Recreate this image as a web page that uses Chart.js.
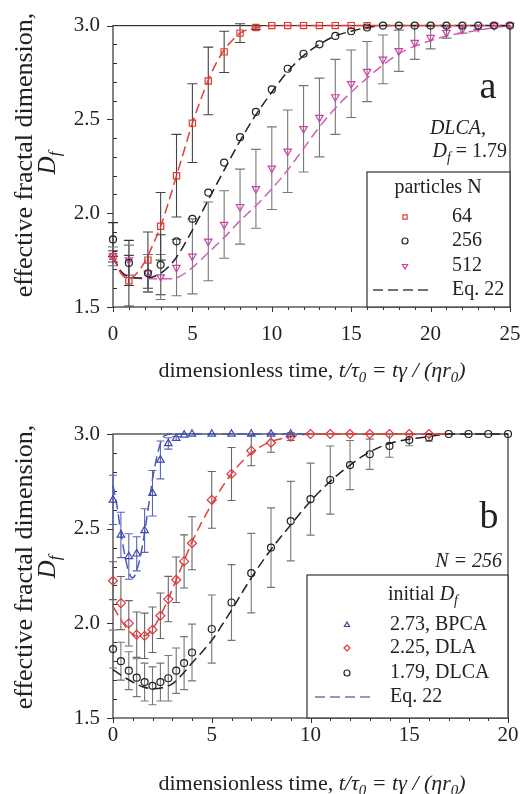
<!DOCTYPE html>
<html>
<head>
<meta charset="utf-8">
<script src="https://cdn.jsdelivr.net/npm/chart.js@4.4.1/dist/chart.umd.min.js"></script>
<style>
body{margin:0;background:#fff;width:520px;height:794px;overflow:hidden;position:relative}
canvas{position:absolute;left:0}
#chartA{top:0}
#chartB{top:400px}
</style>
</head>
<body>
<canvas id="chartA" width="520" height="400"></canvas>
<canvas id="chartB" width="520" height="394"></canvas>
<script>

// panel a : DLCA, Df = 1.79, different particle numbers N
const timeA=[0,1,2.2,3,4,5,6,7,8,9,10,11,12,13,14,15,16,17,18,19,20,21,22,23,24,25]

const df64=[1.77,1.64,1.75,1.93,2.20,2.48,2.705,2.86,2.96,2.99,3.0,3.0,3.0,3.0,3.0,3.0,3.0,null,null,null,null,null,null,null,null,null]
const err64=[0.03,0.135,0.15,0.18,0.22,0.21,0.18,0.11,0.05,0.01,0,0,0,0,0,0,0,0,0,0,0,0,0,0,0,0]

const df256=[1.86,1.735,1.68,1.725,1.85,1.97,2.11,2.27,2.405,2.54,2.66,2.77,2.85,2.90,2.945,2.97,2.99,3.0,3.0,3.0,3.0,3.0,3.0,3.0,3.0,3.0]
const err256=[0.09,0.12,0.1,0.16,0,0,0,0,0,0,0,0,0,0,0,0,0,0,0,0,0,0,0,0,0,0]

const df512=[1.77,1.75,1.68,1.66,1.71,1.77,1.85,1.94,2.035,2.13,2.24,2.33,2.45,2.51,2.62,2.69,2.755,2.82,2.866,2.91,2.936,2.963,2.98,2.99,3.0,3.0]
const err512=[0.05,0.08,0.1,0.12,0.15,0.2,0.21,0.18,0.2,0.21,0.22,0.22,0.23,0.21,0.2,0.18,0.16,0.13,0.11,0.09,0.06,0.03,0.02,0.01,0,0]

// Eq. 22 curves, panel a
const eqTime64=[0,0.5,1,1.5,2,2.5,3,3.5,4,4.5,5,5.5,6,6.5,7,7.5,8,9,10,25]
const eq64=[1.77,1.68,1.65,1.68,1.74,1.83,1.93,2.06,2.20,2.34,2.48,2.60,2.71,2.80,2.87,2.92,2.96,2.99,3.0,3.0]

const eqTimeA=[0,0.5,1,1.5,2,2.5,3,3.5,4,5,6,7,8,9,10,11,12,13,14,15,16,17,18,19,20,21,22,23,24,25]
const eq256=[1.77,1.69,1.66,1.655,1.655,1.66,1.68,1.715,1.765,1.91,2.07,2.23,2.385,2.525,2.645,2.755,2.84,2.90,2.945,2.97,2.99,3.0,3.0,3.0,3.0,3.0,3.0,3.0,3.0,3.0]
const eq512=[1.77,1.69,1.665,1.655,1.65,1.65,1.65,1.65,1.655,1.71,1.79,1.87,1.96,2.04,2.13,2.23,2.345,2.46,2.56,2.645,2.72,2.79,2.85,2.89,2.92,2.945,2.96,2.975,2.99,3.0]

// panel b : N = 256, different initial Df
const timeB=[0,0.4,0.8,1.2,1.6,2,2.4,2.8,3.2,3.6,4,5,6,7,8,9,10,11,12,13,14,15,16,17,18,19,20]

const bpca=[2.652,2.467,2.353,2.367,2.49,2.687,2.863,2.95,2.977,2.995,3.0,3.0,3.0,3.0,3.0,3.0,null,null,null,null,null,null,null,null,null,null,null]
const bpcaErr=[0.13,0.12,0.12,0.09,0.115,0.12,0.1,0.03,0.01,0,0,0,0,0,0,0,0,0,0,0,0,0,0,0,0,0,0]

const dla=[2.225,2.107,2.0,1.94,1.934,1.966,2.04,2.128,2.23,2.327,2.423,2.652,2.789,2.912,2.954,2.986,3.0,3.0,3.0,3.0,3.0,3.0,3.0,null,null,null,null]
const dlaErr=[0.1,0.14,0.12,0.12,0.12,0.12,0.12,0.12,0.12,0.14,0.14,0.15,0.14,0.08,0.05,0.02,0,0,0,0,0,0,0,0,0,0,0]

const dlca=[1.864,1.80,1.75,1.713,1.69,1.67,1.69,1.71,1.75,1.79,1.846,1.97,2.11,2.265,2.40,2.54,2.656,2.757,2.836,2.893,2.937,2.968,2.982,3.0,3.0,3.0,3.0]
const dlcaErr=[0.1,0.1,0.1,0.1,0.1,0.1,0.1,0.12,0.12,0.14,0.15,0.18,0.2,0.21,0.21,0.21,0.19,0.18,0.13,0.08,0.06,0.03,0.02,0,0,0,0]

// Eq. 22 curves, panel b
const eqTimeBlue=[0,0.2,0.4,0.6,0.8,1,1.2,1.4,1.6,1.8,2,2.2,2.4,2.6,3,10]
const eqBlue=[2.73,2.62,2.48,2.36,2.27,2.24,2.28,2.36,2.48,2.62,2.76,2.87,2.95,2.99,3.0,3.0]

const eqTimeRed=[0,0.4,0.8,1.2,1.6,2,2.4,2.8,3.2,3.6,4,5,6,7,8,9,10,17]
const eqRed=[2.09,2.02,1.96,1.935,1.935,1.97,2.04,2.13,2.23,2.33,2.43,2.63,2.79,2.90,2.96,2.985,3.0,3.0]

const eqTimeBlack=[0,0.5,1,1.5,2,2.5,3,3.5,4,5,6,7,8,9,10,11,12,13,14,15,16,17,20]
const eqBlack=[1.755,1.72,1.69,1.665,1.655,1.66,1.68,1.73,1.79,1.91,2.07,2.24,2.39,2.52,2.645,2.75,2.836,2.905,2.95,2.972,2.986,3.0,3.0]


const SERIF='"Liberation Serif","Times New Roman",serif'
const INK='#222'

function pts(xs,ys,errs){
return xs.map((x,i)=>({x:x,y:ys[i],e:errs?errs[i]:0})).filter(p=>p.y!==null)
}

// text made of pieces: ['text', ''|'i'|'isub'|'sub']
function richText(ctx,segs,x,y,size,align){
const parts=segs.map(s=>{
const sub=s[1].indexOf('sub')>=0
const it=s[1].indexOf('i')===0
const fs=sub?size*0.68:size
const font=(it?'italic ':'')+fs+'px '+SERIF
ctx.font=font
return {t:s[0],font:font,w:ctx.measureText(s[0]).width,dy:sub?size*0.3:0}
})
const total=parts.reduce((a,p)=>a+p.w,0)
let cx=x
if(align==='center') cx=x-total/2
if(align==='right') cx=x-total
ctx.textAlign='left'
ctx.textBaseline='middle'
parts.forEach(p=>{
ctx.font=p.font
ctx.fillText(p.t,cx,y+p.dy)
cx+=p.w
})
}

const axesFrame={
id:'axesFrame',
beforeDatasetsDraw(chart,args,o){
const {ctx,chartArea:a,scales:{x,y}}=chart
ctx.save()
ctx.strokeStyle='#333'
ctx.lineWidth=1.2
ctx.strokeRect(a.left,a.top,a.right-a.left,a.bottom-a.top)
ctx.lineWidth=1
ctx.beginPath()
const nx=Math.round((x.max-x.min)/o.xMinor)
for(let i=0;i<=nx;i++){
const v=x.min+i*o.xMinor
const px=Math.round(x.getPixelForValue(v))+0.5
const major=i%Math.round(o.xMajor/o.xMinor)===0
ctx.moveTo(px,a.bottom)
ctx.lineTo(px,a.bottom+(major?5:3))
}
const ny=Math.round((y.max-y.min)/o.yMinor)
for(let i=0;i<=ny;i++){
const v=y.min+i*o.yMinor
const py=Math.round(y.getPixelForValue(v))+0.5
const major=i%Math.round(o.yMajor/o.yMinor)===0
if(major){
ctx.moveTo(a.left-6,py)
ctx.lineTo(a.left,py)
}else{
ctx.moveTo(a.left,py)
ctx.lineTo(a.left+4,py)
}
}
ctx.stroke()
ctx.restore()
}
}

const errorBars={
id:'errorBars',
beforeDatasetsDraw(chart){
const {ctx,scales:{x,y}}=chart
chart.data.datasets.forEach(ds=>{
if(!ds.errColor) return
ctx.save()
ctx.strokeStyle=ds.errColor
ctx.lineWidth=1.1
ds.data.forEach(p=>{
if(!p.e) return
const px=x.getPixelForValue(p.x)
const top=y.getPixelForValue(p.y+p.e)
const bot=y.getPixelForValue(p.y-p.e)
ctx.beginPath()
ctx.moveTo(px,top)
ctx.lineTo(px,bot)
ctx.moveTo(px-ds.cap,top)
ctx.lineTo(px+ds.cap,top)
ctx.moveTo(px-ds.cap,bot)
ctx.lineTo(px+ds.cap,bot)
ctx.stroke()
})
ctx.restore()
})
}
}

const boxLegend={
id:'boxLegend',
afterDatasetsDraw(chart,args,o){
const ctx=chart.ctx
ctx.save()
ctx.fillStyle='#fff'
ctx.fillRect(o.x,o.y,o.w,o.h)
ctx.strokeStyle='#333'
ctx.lineWidth=1.2
ctx.strokeRect(o.x,o.y,o.w,o.h)
ctx.fillStyle=INK
richText(ctx,o.head,o.headX,o.headY,20,o.headAlign)
o.rows.forEach((idx,k)=>{
const ds=chart.data.datasets[idx]
const yy=o.rowY[k]
if(ds.showLine){
ctx.save()
ctx.strokeStyle=o.lineColor||ds.borderColor
ctx.lineWidth=1.5
ctx.setLineDash(ds.borderDash)
ctx.beginPath()
ctx.moveTo(o.lineX[0],yy)
ctx.lineTo(o.lineX[1],yy)
ctx.stroke()
ctx.restore()
}else{
ctx.save()
ctx.strokeStyle=ds.pointBorderColor
ctx.fillStyle='rgba(0,0,0,0)'
Chart.helpers.drawPoint(ctx,{pointStyle:ds.pointStyle,radius:o.markerR,rotation:ds.pointRotation||0,borderWidth:1.2},o.markerX,yy)
ctx.restore()
}
ctx.fillStyle=INK
richText(ctx,[[ds.label,'']],o.textX,yy,20,'left')
})
ctx.restore()
}
}

const texts={
id:'texts',
afterDraw(chart,args,o){
const ctx=chart.ctx
o.items.forEach(t=>{
ctx.save()
ctx.fillStyle=INK
ctx.translate(t.x,t.y)
if(t.rot) ctx.rotate(t.rot)
richText(ctx,t.segs,0,0,t.size,t.align||'center')
ctx.restore()
})
}
}

function markers(label,data,style,color,radius,errColor,cap,rotation){
return {
label:label,data:data,showLine:false,
pointStyle:style,pointRadius:radius,pointRotation:rotation||0,
pointBorderColor:color,borderColor:color,pointBorderWidth:1.2,
pointBackgroundColor:'rgba(0,0,0,0)',backgroundColor:'rgba(0,0,0,0)',
errColor:errColor,cap:cap,clip:false
}
}

function curve(data,color){
return {
label:'Eq. 22',data:data,showLine:true,pointRadius:0,
borderColor:color,borderWidth:1.5,borderDash:[10,5],
cubicInterpolationMode:'monotone',fill:false,clip:false
}
}

function makeChart(id,c){
return new Chart(document.getElementById(id),{
type:'scatter',
data:{datasets:c.datasets},
options:{
responsive:false,
animation:false,
events:[],
layout:{padding:{top:c.top,right:c.right,left:0,bottom:0}},
plugins:{
legend:{display:false},
tooltip:{enabled:false},
axesFrame:{xMinor:1,xMajor:5,yMinor:0.1,yMajor:0.5},
boxLegend:c.legend,
texts:{items:c.texts}
},
scales:{
x:{
type:'linear',min:0,max:c.xMax,
grid:{display:false,drawTicks:false},
border:{display:false},
ticks:{stepSize:5,padding:c.xPad,color:INK,font:{family:SERIF,size:21}},
afterFit(s){
s.height=c.xHeight
// the label overhang is already covered by layout padding
s.paddingLeft=0
s.paddingRight=0
}
},
y:{
type:'linear',min:1.5,max:3,
grid:{display:false,drawTicks:false},
border:{display:false},
ticks:{stepSize:0.5,padding:13,color:INK,font:{family:SERIF,size:21},callback:v=>v.toFixed(1)},
afterFit(s){s.width=113}
}
}
},
plugins:[axesFrame,errorBars,boxLegend,texts]
})
}

const xTitle=[['dimensionless time, ',''],['t','i'],['/','i'],['τ','i'],['0','isub'],[' = ','i'],['tγ','i'],[' / ','i'],['(','i'],['ηr','i'],['0','isub'],[')','i']]
const yTitle=[['effective fractal dimension,','']]
const yDf=[['D','i'],['f','isub']]

makeChart('chartA',{
top:23,right:10,xMax:25,xHeight:93,xPad:15,
datasets:[
markers('256',pts(timeA,df256,err256),'circle','#222',3.5,'#333',5),
markers('512',pts(timeA,df512,err512),'triangle','#cc3fa9',4.3,'#777',5,180),
markers('64',pts(timeA,df64,err64),'rect','#e5392d',4.4,'#444',5),
curve(pts(eqTime64,eq64),'#e0403a'),
curve(pts(eqTimeA,eq256),'#222'),
curve(pts(eqTimeA,eq512),'#d060b4')
],
legend:{
x:367,y:172,w:143,h:135,
head:[['particles N','']],headX:438,headY:188,headAlign:'center',
rows:[2,0,1,4],rowY:[217,241,266,290],
markerX:405,markerR:3,textX:452,lineX:[373,430],lineColor:'#444'
},
texts:[
{segs:yTitle,x:25,y:155,size:26,rot:-Math.PI/2},
{segs:yDf,x:48,y:163,size:25,rot:-Math.PI/2},
{segs:xTitle,x:312,y:371,size:22},
{segs:[['a','']],x:488,y:88,size:38},
{segs:[['DLCA,','i']],x:486,y:129,size:20,align:'right'},
{segs:[['D','i'],['f','isub'],[' = 1.79','']],x:507,y:152,size:20,align:'right'}
]
})

makeChart('chartB',{
top:34,right:12,xMax:20,xHeight:76,xPad:5,
datasets:[
markers('2.73, BPCA',pts(timeB,bpca,bpcaErr),'triangle','#3a4aa8',4.3,'#5565c0',4),
markers('2.25, DLA',pts(timeB,dla,dlaErr),'rectRot','#e8323a',4.5,'#666',4),
markers('1.79, DLCA',pts(timeB,dlca,dlcaErr),'circle','#222',3.5,'#777',4),
curve(pts(eqTimeBlue,eqBlue),'#4a5ab8'),
curve(pts(eqTimeRed,eqRed),'#e0403a'),
curve(pts(eqTimeBlack,eqBlack),'#222')
],
legend:{
x:307,y:175,w:201,h:143,
head:[['initial ',''],['D','i'],['f','isub']],headX:388,headY:195,headAlign:'left',
rows:[0,1,2,3],rowY:[225,248,273,297],
markerX:347,markerR:3,textX:390,lineX:[315,370],lineColor:'#7078a8'
},
texts:[
{segs:yTitle,x:25,y:167,size:26,rot:-Math.PI/2},
{segs:yDf,x:48,y:167,size:25,rot:-Math.PI/2},
{segs:xTitle,x:312,y:384,size:22},
{segs:[['b','']],x:489,y:118,size:38},
{segs:[['N = 256','i']],x:502,y:162,size:20,align:'right'}
]
})

</script>
</body>
</html>
